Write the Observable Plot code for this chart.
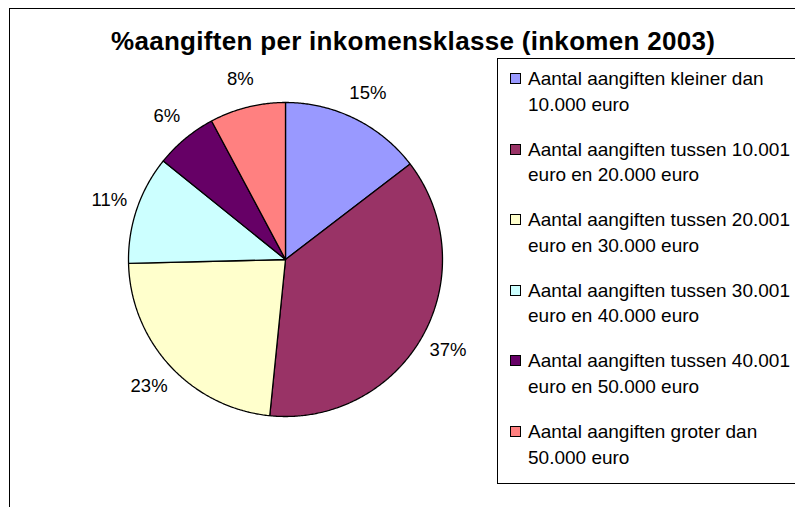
<!DOCTYPE html>
<html>
<head>
<meta charset="utf-8">
<script src="https://cdn.jsdelivr.net/npm/d3@7"></script>
<script src="https://cdn.jsdelivr.net/npm/@observablehq/plot@0.6"></script>
<style>
  html, body { margin: 0; padding: 0; background: #fff; }
  #wrap { position: relative; width: 795px; height: 507px; overflow: hidden; background: #fff; font-family: "Liberation Sans", Arial, sans-serif; }
  #frame { position: absolute; left: 9px; top: 8px; width: 1000px; height: 1000px; border: 1px solid #000; box-sizing: border-box; }
  #title { position: absolute; left: 111px; top: 28px; font-weight: bold; font-size: 26px; letter-spacing: 0.3px; line-height: 26px; color: #000; white-space: nowrap; }
  #chart { position: absolute; left: 0; top: 0; }
  #legend { position: absolute; left: 497px; top: 58px; width: 400px; height: 426px; border: 1px solid #000; box-sizing: border-box; background: #fff; }
  .entry { position: absolute; left: 0; width: 380px; font-size: 19px; line-height: 25.5px; color: #000; white-space: pre; }
  .entry .sw { position: absolute; left: 12px; top: 7px; width: 11px; height: 11px; border: 1px solid #000; box-sizing: border-box; }
  .entry .tx { position: absolute; left: 30px; top: 0; }
</style>
</head>
<body>
<div id="wrap">
  <div id="frame"></div>
  <div id="chart"></div>
  <div id="legend"></div>
  <div id="title"></div>
</div>
<script>
const title = "%aangiften per inkomensklasse (inkomen 2003)";
const categories = [
  "Aantal aangiften kleiner dan\n10.000 euro",
  "Aantal aangiften tussen 10.001\neuro en 20.000 euro",
  "Aantal aangiften tussen 20.001\neuro en 30.000 euro",
  "Aantal aangiften tussen 30.001\neuro en 40.000 euro",
  "Aantal aangiften tussen 40.001\neuro en 50.000 euro",
  "Aantal aangiften groter dan\n50.000 euro"
];
const values = [14.6, 37.0, 23.0, 11.2, 6.4, 7.8];
const colors = ["#9999FF", "#993366", "#FFFFCC", "#CCFFFF", "#660066", "#FF8080"];

// Geometry of the chart (pixels)
const W = 795, H = 507, CX = 285, CY = 259, R = 157, LABEL_R = 1.185;

const total = d3.sum(values);
const slices = [];
const outline = [];
let cum = 0;
values.forEach((v, i) => {
  const a0 = cum / total * 2 * Math.PI;
  cum += v;
  const a1 = cum / total * 2 * Math.PI;
  const n = Math.max(4, Math.ceil((a1 - a0) / (Math.PI / 360)));
  outline.push({cat: categories[i], x: 0, y: 0});
  for (let k = 0; k <= n; k++) {
    const t = a0 + (a1 - a0) * k / n;
    outline.push({cat: categories[i], x: Math.sin(t), y: Math.cos(t)});
  }
  outline.push({cat: categories[i], x: 0, y: 0});
  const m = (a0 + a1) / 2;
  slices.push({cat: categories[i], value: v, lx: LABEL_R * Math.sin(m), ly: LABEL_R * Math.cos(m)});
});

document.getElementById("title").textContent = title;

const plot = Plot.plot({
  width: W,
  height: H,
  margin: 0,
  x: {domain: [-CX / R, (W - CX) / R], range: [0, W], axis: null},
  y: {domain: [-(H - CY) / R, CY / R], range: [H, 0], axis: null},
  color: {domain: categories, range: colors},
  style: {background: "transparent", fontFamily: "'Liberation Sans', Arial, sans-serif", overflow: "visible"},
  marks: [
    Plot.line(outline, {x: "x", y: "y", z: "cat", fill: "cat", stroke: "#000", strokeWidth: 1.3, strokeLinejoin: "miter", curve: "linear"}),
    Plot.text(slices, {x: "lx", y: "ly", text: d => Math.round(d.value / total * 100) + "%", fontSize: 18.5, fill: "#000"})
  ]
});
document.getElementById("chart").appendChild(plot);

const legend = document.getElementById("legend");
categories.forEach((c, i) => {
  const e = document.createElement("div");
  e.className = "entry";
  e.style.top = (7 + i * 70.6) + "px";
  const sw = document.createElement("div");
  sw.className = "sw";
  sw.style.background = colors[i];
  const tx = document.createElement("div");
  tx.className = "tx";
  tx.textContent = c;
  e.appendChild(sw);
  e.appendChild(tx);
  legend.appendChild(e);
});
</script>
</body>
</html>
